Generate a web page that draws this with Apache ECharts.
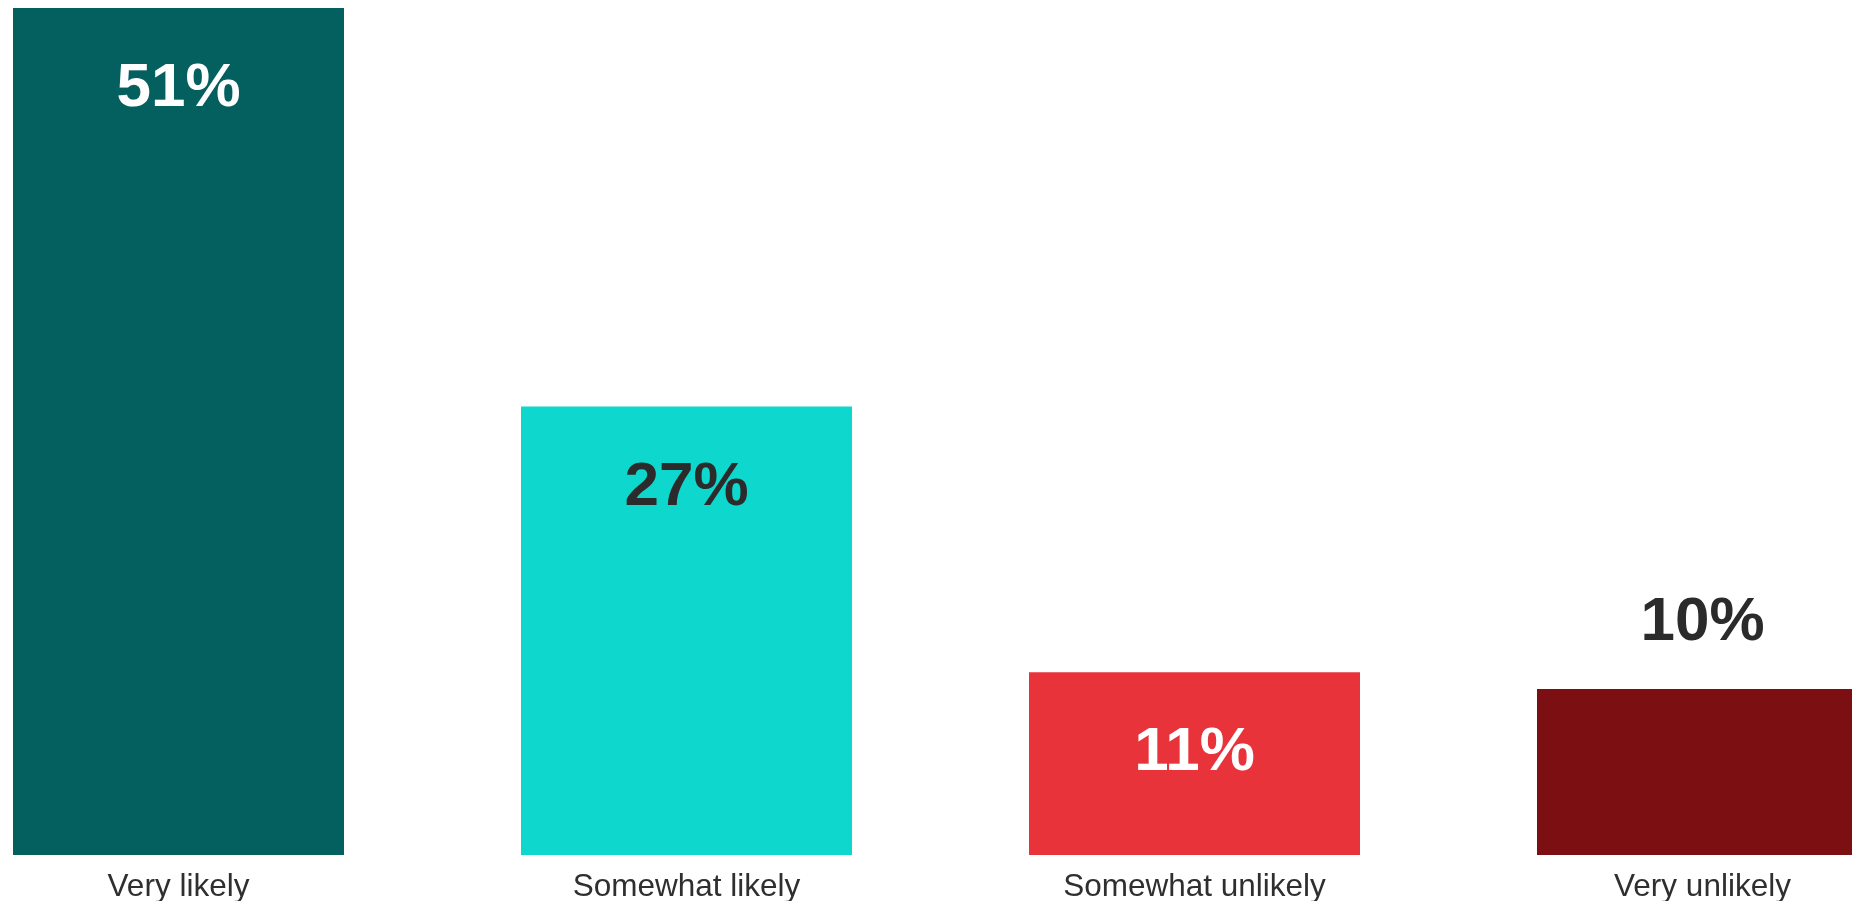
<!DOCTYPE html>
<html>
<head>
<meta charset="utf-8">
<script src="https://cdn.jsdelivr.net/npm/echarts@6/dist/echarts.min.js"></script>
<style>
html,body{margin:0;padding:0;background:#fff;}
#chart{width:1852px;height:901px;}
</style>
</head>
<body>
<div id="chart"></div>
<script>
const categories = ['Very likely', 'Somewhat likely', 'Somewhat unlikely', 'Very unlikely'];
const values = [51, 27, 11, 10];
const barColors = ['#03605E', '#0ED7CD', '#E9333A', '#7B0F12'];
const labelColors = ['#FFFFFF', '#2B2B2B', '#FFFFFF', '#2B2B2B'];
const labelPositions = ['insideTop', 'insideTop', 'insideTop', 'top'];

const FONT = 'Liberation Sans';
const chart = echarts.init(document.getElementById('chart'));
chart.setOption({
  animation: false,
  grid: { left: -75.5, width: 2032, top: 8, bottom: 46, containLabel: false, outerBoundsMode: 'none' },
  xAxis: {
    type: 'category',
    data: categories,
    axisLine: { show: false },
    axisTick: { show: false },
    axisLabel: { color: '#2F2F2F', fontSize: 31.5, fontFamily: FONT, margin: 16, interval: 0 }
  },
  yAxis: {
    type: 'value',
    min: 0, max: 51,
    show: false,
    splitLine: { show: false }
  },
  series: [{
    type: 'bar',
    barWidth: 331,
    data: values.map((v, i) => ({
      value: v,
      itemStyle: { color: barColors[i] },
      label: {
        show: true,
        position: labelPositions[i],
        distance: labelPositions[i] === 'top' ? 35 : 50,
        color: labelColors[i],
        fontSize: 62,
        fontWeight: 'bold',
        fontFamily: FONT,
        formatter: '{c}%'
      }
    }))
  }]
});
</script>
</body>
</html>
